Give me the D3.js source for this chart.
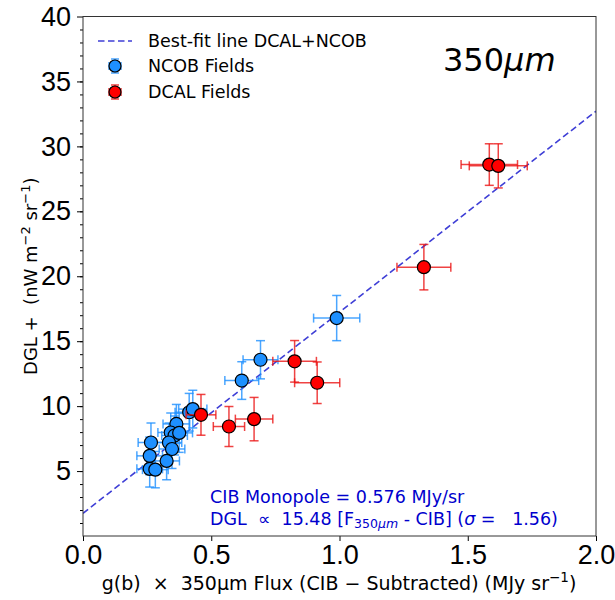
<!DOCTYPE html>
<html>
<head>
<meta charset="utf-8">
<script src="https://cdn.jsdelivr.net/npm/d3@7"></script>
<style>
  body { margin: 0; background: #fff; }
  svg { font-family: "DejaVu Sans", sans-serif; }
  svg text { white-space: pre; }
  .axis text { font-size: 27px; fill: #000; }
  .axis path, .axis line { stroke: #000; }
</style>
</head>
<body>
<div id="chart"></div>
<script>
// NCOB fields: flux (x), DGL (y), errors
const ncobX    = [0.619, 0.414, 0.428, 0.364, 0.342, 0.357, 0.375, 0.335, 0.347, 0.326, 0.265, 0.260, 0.260, 0.282, 0.692, 0.989];
const ncobY    = [11.97, 9.53, 9.77, 8.63, 7.97, 7.74, 7.94, 7.20, 6.70, 5.78, 7.20, 6.17, 5.17, 5.11, 13.57, 16.78];
const ncobXErr = [0.066, 0.055, 0.055, 0.052, 0.050, 0.050, 0.052, 0.050, 0.050, 0.050, 0.050, 0.050, 0.050, 0.050, 0.068, 0.090];
const ncobYErr = [1.45, 1.45, 1.45, 1.5, 1.5, 1.5, 1.5, 1.5, 1.5, 1.45, 1.5, 1.45, 1.4, 1.4, 1.47, 1.74];

// DCAL fields
const dcalX    = [1.584, 1.619, 1.329, 0.825, 0.913, 0.667, 0.569, 0.460];
const dcalY    = [28.6, 28.5, 20.7, 13.45, 11.8, 9.0, 8.43, 9.33];
const dcalXErr = [0.110, 0.113, 0.105, 0.085, 0.088, 0.073, 0.061, 0.058];
const dcalYErr = [1.6, 1.7, 1.75, 1.6, 1.6, 1.67, 1.54, 1.57];

// best-fit line
const fitSlope = 15.48;
const fitIntercept = 1.75;

const xTicks = [0.0, 0.5, 1.0, 1.5, 2.0];
const yTicks = [5, 10, 15, 20, 25, 30, 35, 40];

const margin = { top: 16.5, right: 19, bottom: 64, left: 83 };
const width = 615 - margin.left - margin.right;
const height = 600 - margin.top - margin.bottom;

const svg = d3.select("#chart")
    .append("svg")
    .attr("width", 615)
    .attr("height", 600);

const g = svg.append("g")
    .attr("transform", `translate(${margin.left},${margin.top})`);

const xScale = d3.scaleLinear().domain([0, 2]).range([0, width]);
const yScale = d3.scaleLinear().domain([0, 40]).range([height, 0]);

svg.append("defs").append("clipPath").attr("id", "plot-clip")
    .append("rect").attr("width", width).attr("height", height);

// Best-fit line
g.append("line")
    .attr("clip-path", "url(#plot-clip)")
    .attr("x1", xScale(0)).attr("y1", yScale(fitIntercept))
    .attr("x2", xScale(2)).attr("y2", yScale(fitIntercept + fitSlope * 2))
    .attr("stroke", "#3f3fd6")
    .attr("stroke-width", 1.6)
    .attr("stroke-dasharray", "6.5,3.5");

function drawSeries(xs, ys, xe, ye, fill, errColor) {
    const data = xs.map((x, i) => ({ x, y: ys[i], xe: xe[i], ye: ye[i] }));
    const cap = 4.5;
    const eb = g.append("g").attr("stroke", errColor).attr("stroke-width", 1.5);
    data.forEach(d => {
        const cx = xScale(d.x), cy = yScale(d.y);
        const x0 = xScale(d.x - d.xe), x1 = xScale(d.x + d.xe);
        const y0 = yScale(d.y - d.ye), y1 = yScale(d.y + d.ye);
        eb.append("line").attr("x1", x0).attr("x2", x1).attr("y1", cy).attr("y2", cy);
        eb.append("line").attr("x1", cx).attr("x2", cx).attr("y1", y0).attr("y2", y1);
        eb.append("line").attr("x1", x0).attr("x2", x0).attr("y1", cy - cap).attr("y2", cy + cap);
        eb.append("line").attr("x1", x1).attr("x2", x1).attr("y1", cy - cap).attr("y2", cy + cap);
        eb.append("line").attr("x1", cx - cap).attr("x2", cx + cap).attr("y1", y0).attr("y2", y0);
        eb.append("line").attr("x1", cx - cap).attr("x2", cx + cap).attr("y1", y1).attr("y2", y1);
    });
    g.append("g").selectAll("circle")
        .data(data)
        .enter()
        .append("circle")
        .attr("cx", d => xScale(d.x))
        .attr("cy", d => yScale(d.y))
        .attr("r", 6.5)
        .attr("fill", fill)
        .attr("stroke", "#000")
        .attr("stroke-width", 1.2);
}

drawSeries(ncobX, ncobY, ncobXErr, ncobYErr, "#1e90ff", "rgba(30,144,255,0.8)");
drawSeries(dcalX, dcalY, dcalXErr, dcalYErr, "#ff0000", "rgba(235,20,20,0.8)");

// Axes
g.append("g")
    .attr("class", "axis")
    .attr("transform", `translate(0,${height})`)
    .call(d3.axisBottom(xScale).tickValues(xTicks).tickFormat(d3.format(".1f")).tickSize(5).tickPadding(4))
    .call(a => a.select(".domain").remove());

g.append("g")
    .attr("class", "axis")
    .call(d3.axisLeft(yScale).tickValues(d3.range(1, 40)).tickFormat("").tickSize(3))
    .call(a => a.select(".domain").remove());

g.append("g")
    .attr("class", "axis")
    .call(d3.axisLeft(yScale).tickValues(yTicks).tickSize(6).tickPadding(6))
    .call(a => a.select(".domain").remove());

g.selectAll(".axis line").attr("stroke-width", 1);

// Frame
g.append("rect")
    .attr("width", width).attr("height", height)
    .attr("fill", "none").attr("stroke", "#333").attr("stroke-width", 1);

// Axis labels
const xl = svg.append("text")
    .attr("x", 339)
    .attr("y", 590)
    .attr("text-anchor", "middle")
    .style("font-size", "19px");
xl.append("tspan").text("g(b)  \u00d7  350\u03bcm Flux (CIB \u2212 Subtracted) (MJy sr");
xl.append("tspan").attr("dy", -8).style("font-size", "13.5px").text("\u22121");
xl.append("tspan").attr("dy", 8).text(")");

const yl = svg.append("text")
    .attr("transform", `translate(37,${margin.top + height / 2}) rotate(-90)`)
    .attr("text-anchor", "middle")
    .style("font-size", "18px");
yl.append("tspan").text("DGL +  (nW m");
yl.append("tspan").attr("dy", -7).style("font-size", "13px").text("\u22122");
yl.append("tspan").attr("dy", 7).text(" sr");
yl.append("tspan").attr("dy", -7).style("font-size", "13px").text("\u22121");
yl.append("tspan").attr("dy", 7).text(")");

// Legend
const legend = svg.append("g").style("font-size", "17.5px");
legend.append("line")
    .attr("x1", 98).attr("x2", 132).attr("y1", 41).attr("y2", 41)
    .attr("stroke", "#3f3fd6").attr("stroke-width", 1.6).attr("stroke-dasharray", "6.5,3.5");
legend.append("text").attr("x", 148).attr("y", 47).text("Best-fit line DCAL+NCOB");

[{ y: 66, fill: "#1e90ff", err: "rgba(30,144,255,0.8)", label: "NCOB Fields" },
 { y: 92, fill: "#ff0000", err: "rgba(235,20,20,0.8)", label: "DCAL Fields" }].forEach(e => {
    const lg = legend.append("g").attr("stroke", e.err).attr("stroke-width", 1.5);
    lg.append("line").attr("x1", 115).attr("x2", 115).attr("y1", e.y - 7).attr("y2", e.y + 7);
    lg.append("line").attr("x1", 111).attr("x2", 119).attr("y1", e.y - 7).attr("y2", e.y - 7);
    lg.append("line").attr("x1", 111).attr("x2", 119).attr("y1", e.y + 7).attr("y2", e.y + 7);
    lg.append("line").attr("x1", 109).attr("x2", 121).attr("y1", e.y).attr("y2", e.y);
    lg.append("line").attr("x1", 109).attr("x2", 109).attr("y1", e.y - 4).attr("y2", e.y + 4);
    lg.append("line").attr("x1", 121).attr("x2", 121).attr("y1", e.y - 4).attr("y2", e.y + 4);
    legend.append("circle").attr("cx", 115).attr("cy", e.y).attr("r", 6)
        .attr("fill", e.fill).attr("stroke", "#000").attr("stroke-width", 1.2);
    legend.append("text").attr("x", 148).attr("y", e.y + 6).text(e.label);
});

// Band label
const band = svg.append("text")
    .attr("x", 443).attr("y", 71)
    .style("font-size", "32px");
band.append("tspan").text("350");
band.append("tspan").style("font-style", "italic").text("\u03bcm");

// Fit annotation
const ann = svg.append("g").style("font-size", "17.5px").attr("fill", "#0000cd");
ann.append("text").attr("x", 210).attr("y", 503).text("CIB Monopole = 0.576 MJy/sr");
const a2 = ann.append("text").attr("x", 210).attr("y", 525);
a2.append("tspan").text("DGL  \u221d  15.48 [F");
a2.append("tspan").attr("dy", 3).style("font-size", "12.5px").text("350");
a2.append("tspan").style("font-size", "12.5px").style("font-style", "italic").text("\u03bcm");
a2.append("tspan").attr("dy", -3).text(" - CIB] (");
a2.append("tspan").style("font-style", "italic").text("\u03c3");
a2.append("tspan").text(" =   1.56)");
</script>
</body>
</html>
